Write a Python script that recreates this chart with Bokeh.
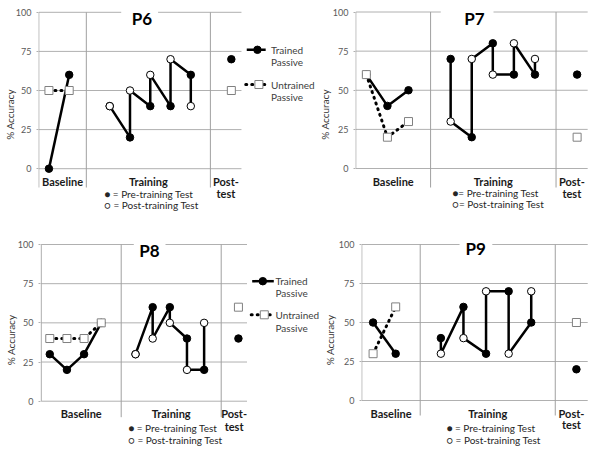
import math
from bokeh.plotting import figure
from bokeh.layouts import row, column
from bokeh.models import Range1d, FixedTicker
from bokeh.core.properties import value
from bokeh.embed import file_html
from bokeh.resources import INLINE

# ---------------- data ----------------
Y_TICKS = [0, 25, 50, 75, 100]
SECTION_NAMES = ["Baseline", "Training", "Post-test"]
TEST_KEY = ["\u25cf = Pre-training Test", "\u25cb = Post-training Test"]
TEST_KEY_P7 = ["\u25cf= Pre-training Test", "\u25cb= Post-training Test"]
LEGEND_NAMES = [["Trained", "Passive"], ["Untrained", "Passive"]]
Y_LABEL = "% Accuracy"

P6_BASE_TRAINED = [0, 60]
P6_BASE_UNTRAINED = [50, 50]
P6_PRE = [40, 20, 40, 40, 60]
P6_POST = [40, 50, 60, 70, 40]
P6_FINAL = [70, 50]          # trained, untrained

P7_BASE_TRAINED = [60, 40, 50]
P7_BASE_UNTRAINED = [60, 20, 30]
P7_PRE = [70, 20, 80, 60, 60]
P7_POST = [30, 70, 60, 80, 70]
P7_FINAL = [60, 20]

P8_BASE_TRAINED = [30, 20, 30, 50]
P8_BASE_UNTRAINED = [40, 40, 40, 50]
P8_PRE = [30, 60, 60, 40, 20]
P8_POST = [30, 40, 50, 20, 50]
P8_FINAL = [40, 60]

P9_BASE_TRAINED = [50, 30]
P9_BASE_UNTRAINED = [30, 60]
P9_PRE = [40, 60, 30, 70, 50]
P9_POST = [30, 40, 70, 30, 70]
P9_FINAL = [20, 50]

# ---------------- styling / layout (page pixels) ----------------
FONT = "Lato"
GRID = "#b0b0b0"
DIV = "#a0a0a0"

LAYOUT = {
    "P6": dict(fig=(0, 0, 315, 228), plot=(37.3, 240.7), ypx=(11.8, 168.2),
               divs=(85, 209.5), div_bottom=187, axis_bottom=187,
               title=(140.7, 18.3), gap=(120, 157),
               lab_y=181, test_y=192.7, key=(103, 193.3, 204), key_text=TEST_KEY,
               ylab_standoff=-3,
               legend=dict(line=(246, 265), mark=256.7, tx=270.3,
                           ys=[(49.3, 61.7), (84, 96.7)])),
    "P7": dict(fig=(315, 0, 600, 228), plot=(352.3, 587), ypx=(11.5, 168),
               divs=(428, 555), div_bottom=187, axis_bottom=168,
               title=(472.3, 17.8), gap=(438.3, 491.7),
               lab_y=180.5, test_y=193.3, key=(450, 192.7, 203.3), key_text=TEST_KEY_P7,
               ylab_standoff=-1, legend=None),
    "P8": dict(fig=(0, 228, 320, 451), plot=(40.7, 246.5), ypx=(244, 400.7),
               divs=(120.7, 220.7), div_bottom=416.7, axis_bottom=400.7,
               title=(149, 250), gap=(133.3, 165),
               lab_y=413.3, test_y=426, key=(127.7, 427.7, 439.3), key_text=TEST_KEY,
               ylab_standoff=-2,
               legend=dict(line=(251.7, 273.3), mark=262.3, tx=275,
                           ys=[(280.7, 292.3), (314.3, 327.7)])),
    "P9": dict(fig=(320, 228, 600, 451), plot=(357.3, 587), ypx=(244, 400),
               divs=(416.7, 554), div_bottom=415, axis_bottom=400,
               title=(473, 248.3), gap=(456.7, 490),
               lab_y=412.7, test_y=424.3, key=(443.3, 427.3, 439), key_text=TEST_KEY,
               ylab_standoff=0, legend=None),
}


def build(name, bt, bu, pre, post, final):
    s = LAYOUT[name]
    L, T, R, B = s["fig"]
    nb = len(bt)
    n = nb + 8
    pl, pr = s["plot"]
    dx = (pr - pl) / n
    y100, y0 = s["ypx"]

    def X(px):
        return -0.5 + (px - pl) / dx

    def Y(py):
        return 100.0 * (y0 - py) / (y0 - y100)

    fl = int(math.floor(pl))
    p = figure(width=R - L, height=B - T, output_backend="svg", toolbar_location=None,
               x_range=Range1d(X(fl), X(R)), y_range=Range1d(Y(B), Y(T)),
               x_axis_location=None, min_border_left=fl - L, min_border_right=0,
               min_border_top=0, min_border_bottom=0)
    p.outline_line_color = None
    p.background_fill_color = "white"
    p.border_fill_color = "white"
    p.grid.visible = False

    ax = p.yaxis[0]
    ax.ticker = FixedTicker(ticks=Y_TICKS)
    ax.axis_line_color = None
    ax.major_tick_line_color = GRID
    ax.major_tick_in = 0
    ax.major_tick_out = 2
    ax.minor_tick_line_color = None
    ax.major_label_standoff = 5
    ax.major_label_text_font = FONT
    ax.major_label_text_font_size = "9px"
    ax.major_label_text_color = "#595959"
    ax.axis_label = Y_LABEL
    ax.axis_label_text_font = FONT
    ax.axis_label_text_font_size = "10px"
    ax.axis_label_text_font_style = "normal"
    ax.axis_label_text_color = "#333333"
    ax.axis_label_standoff = s["ylab_standoff"]

    # horizontal gridlines across the plot area only
    p.segment(x0=[-0.5] * len(Y_TICKS), x1=[n - 0.5] * len(Y_TICKS), y0=Y_TICKS, y1=Y_TICKS,
              line_color=GRID, line_width=1)
    # left axis line and section dividers
    p.segment(x0=[-0.5], x1=[-0.5], y0=[100], y1=[Y(s["axis_bottom"])], line_color=DIV, line_width=1)
    p.segment(x0=[X(d) for d in s["divs"]], x1=[X(d) for d in s["divs"]],
              y0=[100, 100], y1=[Y(s["div_bottom"])] * 2, line_color=DIV, line_width=1)

    # title in a white box
    gl, gr = s["gap"]
    tx, ty = s["title"]
    p.quad(left=[X(gl)], right=[X(gr)], top=[Y(T)], bottom=[Y(ty + 9)],
           fill_color="white", line_color=None)
    p.text(x=[X(tx)], y=[Y(ty)], text=[name], text_font=value(FONT), text_font_style="bold",
           text_font_size="17px", text_align="center", text_baseline="middle", text_color="black")

    # series positions
    bx = list(range(nb))
    t0 = nb + 1
    sx = [t0 + i for i in range(len(pre))]
    tr_x, tr_y = [], []
    for i in range(len(pre)):
        tr_x += [sx[i], sx[i]]
        tr_y += [pre[i], post[i]]
    post_idx = nb + 7

    p.line(bx, bu, line_color="black", line_width=3, line_dash="1 5", line_cap="round")
    p.line(bx, bt, line_color="black", line_width=2.5)
    p.line(tr_x, tr_y, line_color="black", line_width=2.5)

    filled = dict(marker="circle", size=7.5, fill_color="black", line_color="black", line_width=1)
    p.scatter(bx, bt, **filled)
    p.scatter(sx, pre, **filled)
    p.scatter([post_idx], [final[0]], **filled)
    p.scatter(sx, post, marker="circle", size=7.5, fill_color="white", line_color="black", line_width=1)
    sq = dict(marker="square", size=8, fill_color="white", line_color="#808080", line_width=1)
    p.scatter(bx, bu, **sq)
    p.scatter([post_idx], [final[1]], **sq)

    # section labels
    d1, d2 = s["divs"]
    centers = [(pl + d1) / 2, (d1 + d2) / 2, (d2 + pr) / 2]
    post_lines = SECTION_NAMES[2].replace("-", "-\n").split("\n")
    lab = dict(text_font=value(FONT), text_font_style="bold", text_font_size="11px",
               text_align="center", text_baseline="middle", text_color="#1a1a1a")
    p.text(x=[X(c) for c in centers], y=[Y(s["lab_y"])] * 3,
           text=[SECTION_NAMES[0], SECTION_NAMES[1], post_lines[0]], **lab)
    p.text(x=[X(centers[2])], y=[Y(s["test_y"])], text=[post_lines[1]], **lab)

    # marker key under Training
    kx, k1, k2 = s["key"]
    p.text(x=[X(kx)] * 2, y=[Y(k1), Y(k2)], text=s["key_text"], text_font=value(FONT),
           text_font_size="10px", text_align="left", text_baseline="middle", text_color="#262626")

    # series legend on the right
    lg = s["legend"]
    if lg:
        (a, b) = lg["line"]
        ya = lg["ys"][0][0]
        yb = lg["ys"][1][0]
        p.line([X(a), X(b)], [Y(ya)] * 2, line_color="black", line_width=2.5)
        p.scatter([X(lg["mark"])], [Y(ya)], **filled)
        p.line([X(a - 1), X(b + 1)], [Y(yb)] * 2, line_color="black", line_width=3,
               line_dash="1 5", line_cap="round")
        p.scatter([X(lg["mark"] + 1.5)], [Y(yb)], **sq)
        for names, ys in zip(LEGEND_NAMES, lg["ys"]):
            p.text(x=[X(lg["tx"])] * 2, y=[Y(v) for v in ys], text=names, text_font=value(FONT),
                   text_font_size="10px", text_align="left", text_baseline="middle",
                   text_color="#404040")
    return p


p6 = build("P6", P6_BASE_TRAINED, P6_BASE_UNTRAINED, P6_PRE, P6_POST, P6_FINAL)
p7 = build("P7", P7_BASE_TRAINED, P7_BASE_UNTRAINED, P7_PRE, P7_POST, P7_FINAL)
p8 = build("P8", P8_BASE_TRAINED, P8_BASE_UNTRAINED, P8_PRE, P8_POST, P8_FINAL)
p9 = build("P9", P9_BASE_TRAINED, P9_BASE_UNTRAINED, P9_PRE, P9_POST, P9_FINAL)

layout = column(row(p6, p7, spacing=0), row(p8, p9, spacing=0), spacing=0)

with open("out.html", "w") as f:
    f.write(file_html(layout, INLINE))
